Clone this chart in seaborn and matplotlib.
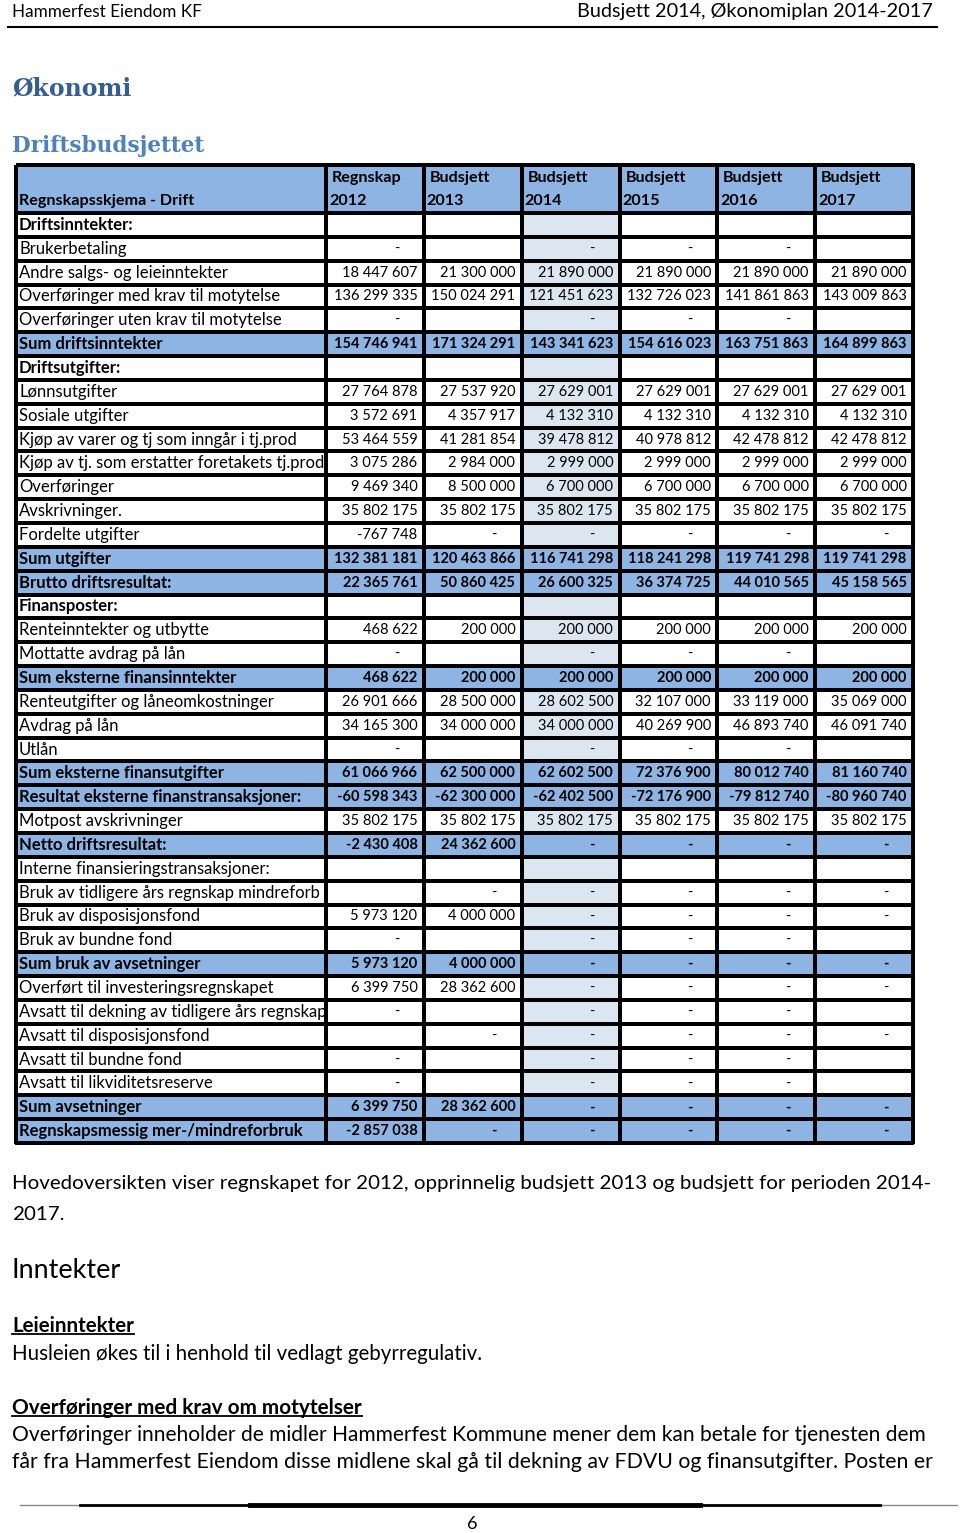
import numpy as np
import pandas as pd
import matplotlib
matplotlib.use("Agg")
import matplotlib.pyplot as plt
import seaborn as sns
from matplotlib.colors import ListedColormap
from matplotlib.lines import Line2D

# ---- table data (nan = empty cell, 0 = "-") ----
nan = np.nan
row_labels = [
    "Driftsinntekter:", "Brukerbetaling", "Andre salgs- og leieinntekter",
    "Overføringer med krav til motytelse", "Overføringer uten krav til motytelse",
    "Sum driftsinntekter", "Driftsutgifter:", "Lønnsutgifter", "Sosiale utgifter",
    "Kjøp av varer og tj som inngår i tj.prod", "Kjøp av tj. som erstatter foretakets tj.prod",
    "Overføringer", "Avskrivninger.", "Fordelte utgifter", "Sum utgifter",
    "Brutto driftsresultat:", "Finansposter:", "Renteinntekter og utbytte",
    "Mottatte avdrag på lån", "Sum eksterne finansinntekter",
    "Renteutgifter og låneomkostninger", "Avdrag på lån", "Utlån",
    "Sum eksterne finansutgifter", "Resultat eksterne finanstransaksjoner:",
    "Motpost avskrivninger", "Netto driftsresultat:", "Interne finansieringstransaksjoner:",
    "Bruk av tidligere års regnskap mindreforb", "Bruk av disposisjonsfond",
    "Bruk av bundne fond", "Sum bruk av avsetninger", "Overført til investeringsregnskapet",
    "Avsatt til dekning av tidligere års regnskap", "Avsatt til disposisjonsfond",
    "Avsatt til bundne fond", "Avsatt til likviditetsreserve", "Sum avsetninger",
    "Regnskapsmessig mer-/mindreforbruk",
]
col_kind = ["Regnskap", "Budsjett", "Budsjett", "Budsjett", "Budsjett", "Budsjett"]
col_year = ["2012", "2013", "2014", "2015", "2016", "2017"]

regnskap_2012 = [nan, 0, 18447607, 136299335, 0, 154746941, nan, 27764878, 3572691,
                 53464559, 3075286, 9469340, 35802175, -767748, 132381181, 22365761, nan,
                 468622, 0, 468622, 26901666, 34165300, 0, 61066966, -60598343, 35802175,
                 -2430408, nan, nan, 5973120, 0, 5973120, 6399750, 0, nan, 0, 0, 6399750,
                 -2857038]
budsjett_2013 = [nan, nan, 21300000, 150024291, nan, 171324291, nan, 27537920, 4357917,
                 41281854, 2984000, 8500000, 35802175, 0, 120463866, 50860425, nan,
                 200000, nan, 200000, 28500000, 34000000, nan, 62500000, -62300000, 35802175,
                 24362600, nan, 0, 4000000, nan, 4000000, 28362600, nan, 0, nan, nan,
                 28362600, 0]
budsjett_2014 = [nan, 0, 21890000, 121451623, 0, 143341623, nan, 27629001, 4132310,
                 39478812, 2999000, 6700000, 35802175, 0, 116741298, 26600325, nan,
                 200000, 0, 200000, 28602500, 34000000, 0, 62602500, -62402500, 35802175,
                 0, nan, 0, 0, 0, 0, 0, 0, 0, 0, 0, 0, 0]
budsjett_2015 = [nan, 0, 21890000, 132726023, 0, 154616023, nan, 27629001, 4132310,
                 40978812, 2999000, 6700000, 35802175, 0, 118241298, 36374725, nan,
                 200000, 0, 200000, 32107000, 40269900, 0, 72376900, -72176900, 35802175,
                 0, nan, 0, 0, 0, 0, 0, 0, 0, 0, 0, 0, 0]
budsjett_2016 = [nan, 0, 21890000, 141861863, 0, 163751863, nan, 27629001, 4132310,
                 42478812, 2999000, 6700000, 35802175, 0, 119741298, 44010565, nan,
                 200000, 0, 200000, 33119000, 46893740, 0, 80012740, -79812740, 35802175,
                 0, nan, 0, 0, 0, 0, 0, 0, 0, 0, 0, 0, 0]
budsjett_2017 = [nan, nan, 21890000, 143009863, nan, 164899863, nan, 27629001, 4132310,
                 42478812, 2999000, 6700000, 35802175, 0, 119741298, 45158565, nan,
                 200000, nan, 200000, 35069000, 46091740, nan, 81160740, -80960740, 35802175,
                 0, nan, 0, 0, nan, 0, 0, nan, 0, nan, nan, 0, 0]

# rows shaded blue / printed bold
blue_rows = [5, 14, 15, 19, 23, 24, 26, 31, 37, 38]
bold_rows = [0, 6, 16] + blue_rows
hl_col = 2  # 2014 column lightly shaded

df = pd.DataFrame(
    {y: c for y, c in zip(col_year, [regnskap_2012, budsjett_2013, budsjett_2014,
                                      budsjett_2015, budsjett_2016, budsjett_2017])},
    index=row_labels)

# ---- page setup ----
W, H = 960, 1533
plt.rcParams["font.family"] = ["Lato", "DejaVu Sans"]
fig = plt.figure(figsize=(W / 100, H / 100), dpi=100)
fig.patch.set_facecolor("white")
renderer = fig.canvas.get_renderer()

cmap = ListedColormap(["#ffffff", "#dce6f1", "#8db4e2"])
hm_kw = dict(cmap=cmap, vmin=0, vmax=2, cbar=False, linewidths=1.7, linecolor="black",
             xticklabels=False, yticklabels=False)


def box(x0, y0, x1, y1):
    return fig.add_axes([x0 / W, 1 - y1 / H, (x1 - x0) / W, (y1 - y0) / H])


def fmt(v):
    if np.isnan(v):
        return ""
    if v == 0:
        return "-"
    s = f"{abs(int(v)):,}".replace(",", " ")
    return "-" + s if v < 0 else s


TL, TC, TR = 16, 326, 913
HT, HB, TB = 165, 213, 1143
n = len(row_labels)
LAB_FS, NUM_FS, HEAD_FS = 12, 10.5, 11.6

# header row
ax_h0 = box(TL, HT, TC, HB)
sns.heatmap(np.array([[2]]), ax=ax_h0, **hm_kw)
ax_h0.text(0.01, 0.75, "Regnskapsskjema - Drift", fontsize=HEAD_FS, fontweight="bold",
           va="center", ha="left")
ax_h1 = box(TC, HT, TR, HB)
sns.heatmap(np.full((1, len(col_year)), 2), ax=ax_h1, **hm_kw)
for j, (k, y) in enumerate(zip(col_kind, col_year)):
    ax_h1.text(j + 0.06, 0.27, k, fontsize=HEAD_FS, fontweight="bold", va="center", ha="left")
    ax_h1.text(j + 0.03, 0.75, y, fontsize=HEAD_FS, fontweight="bold", va="center", ha="left")

# label column
lab_codes = np.array([[2 if i in blue_rows else 0] for i in range(n)])
ax_l = box(TL, HB, TC, TB)
sns.heatmap(lab_codes, ax=ax_l, **hm_kw)
for i, lab in enumerate(row_labels):
    ax_l.text(0.01, i + 0.5, lab, fontsize=LAB_FS,
              fontweight="bold" if i in bold_rows else "normal",
              va="center", ha="left", clip_on=True)

# number columns
codes = np.zeros(df.shape)
codes[:, hl_col] = 1
codes[blue_rows, :] = 2
ax_n = box(TC, HB, TR, TB)
sns.heatmap(codes, ax=ax_n, **hm_kw)
for i in range(n):
    for j, y in enumerate(col_year):
        s = fmt(df.iloc[i, j])
        if not s:
            continue
        w = "bold" if i in bold_rows else "normal"
        if s == "-":
            ax_n.text(j + 0.72, i + 0.5, s, fontsize=NUM_FS, fontweight=w,
                      va="center", ha="center")
        else:
            ax_n.text(j + 0.935, i + 0.5, s, fontsize=NUM_FS, fontweight=w,
                      va="center", ha="right")

for ax in (ax_h0, ax_h1, ax_l, ax_n):
    ax.collections[0].set_clip_on(False)
    ax.set_axis_off()


# ---- page text ----
def put(x, y, s, width=None, size=12, ha="left", **kw):
    t = fig.text(x / W, 1 - y / H, s, fontsize=size, va="center", ha=ha, **kw)
    if width:
        bb = t.get_window_extent(renderer)
        t.set_fontsize(size * width / bb.width)
    return t


def underline(t):
    bb = t.get_window_extent(renderer)
    yl = (bb.y0 + 2) / H
    fig.add_artist(Line2D([bb.x0 / W, bb.x1 / W], [yl, yl], color="black", lw=1.3))


put(12, 12, "Hammerfest Eiendom KF", width=190, size=14)
put(933, 12, "Budsjett 2014, Økonomiplan 2014-2017", width=358, size=14, ha="right")
fig.add_artist(Line2D([8 / W, 937 / W], [1 - 27 / H, 1 - 27 / H], color="black", lw=1.5))

put(12, 88, "Økonomi", width=120, size=18, family="DejaVu Serif",
    fontweight="bold", color="#365f91")
put(12, 146, "Driftsbudsjettet", width=193, size=17, family="DejaVu Serif",
    fontweight="bold", color="#4f81bd")

t1 = put(12, 1183, "Hovedoversikten viser regnskapet for 2012, opprinnelig budsjett 2013 "
         "og budsjett for perioden 2014-", width=914, size=13)
put(12, 1214, "2017.", size=t1.get_fontsize())
put(12, 1270, "Inntekter", width=109, size=18)
underline(put(12, 1326, "Leieinntekter", width=122, size=13, fontweight="bold"))
put(12, 1354, "Husleien økes til i henhold til vedlagt gebyrregulativ.", width=470, size=13)
underline(put(12, 1408, "Overføringer med krav om motytelser", width=350, size=13,
              fontweight="bold"))
put(12, 1435, "Overføringer inneholder de midler Hammerfest Kommune mener dem kan betale "
    "for tjenesten dem", width=914, size=13)
put(12, 1462, "får fra Hammerfest Eiendom disse midlene skal gå til dekning av FDVU og "
    "finansutgifter. Posten er", width=914, size=13)

# footer rule, thicker in the middle
for x0, x1, lw, c in [(20, 957, 1.0, "#888888"), (80, 880, 2.0, "black"),
                      (250, 700, 3.5, "black")]:
    fig.add_artist(Line2D([x0 / W, x1 / W], [1 - 1505 / H, 1 - 1505 / H], color=c, lw=lw))
put(472, 1524, "6", size=13, ha="center")

fig.savefig("out.png", dpi=100, facecolor="white")
